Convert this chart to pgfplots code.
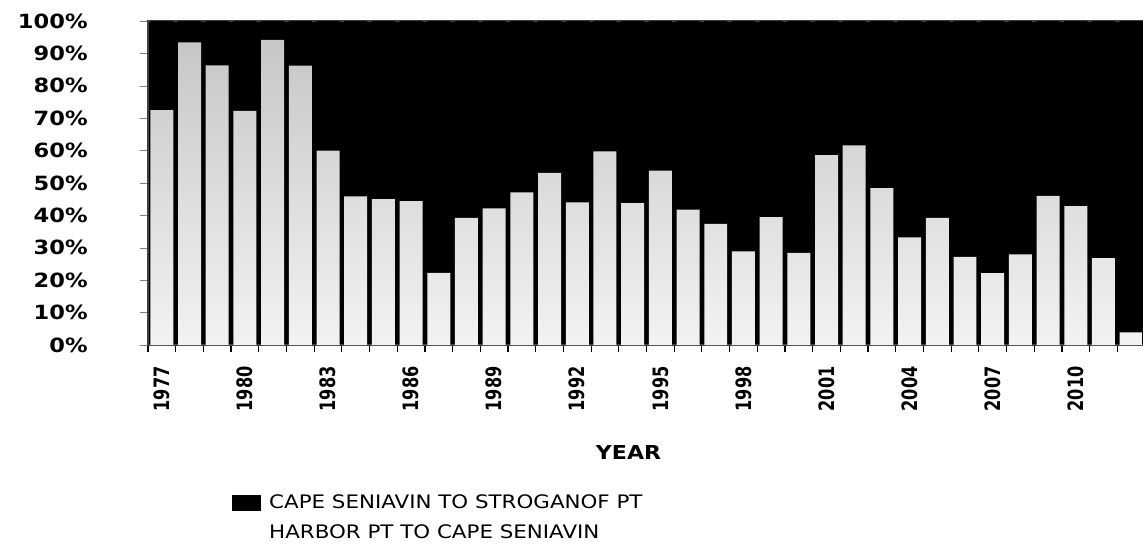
\documentclass[border=0pt]{standalone}
\usepackage{pgfplots}
\usepackage{pgfplotstable}
\pgfplotsset{compat=1.18}
\usepackage{fontspec}
\setmainfont{DejaVu Sans}
\newfontfamily\stf{DejaVu Sans}[FakeStretch=1.15]
\newfontfamily\xf{DejaVu Sans}[FakeStretch=0.76]

\pgfplotstableread{
x harbor cape
0 72.5 27.5
1 93.4 6.6
2 86.3 13.7
3 72.3 27.7
4 94.2 5.8
5 86.2 13.8
6 60.0 40.0
7 45.9 54.1
8 45.0 55.0
9 44.4 55.6
10 22.3 77.7
11 39.2 60.8
12 42.2 57.8
13 47.1 52.9
14 53.1 46.9
15 44.0 56.0
16 59.8 40.2
17 43.8 56.2
18 53.8 46.2
19 41.8 58.2
20 37.4 62.6
21 28.9 71.1
22 39.5 60.5
23 28.4 71.6
24 58.6 41.4
25 61.6 38.4
26 48.4 51.6
27 33.2 66.8
28 39.2 60.8
29 27.2 72.8
30 22.2 77.8
31 28.0 72.0
32 46.0 54.0
33 42.9 57.1
34 26.8 73.2
35 3.9 96.1
}\datatable

\begin{document}
\begin{tikzpicture}
\begin{axis}[
  at={(0,0)}, anchor=south west,
  scale only axis, width=498.5pt, height=162pt,
  ybar stacked, bar width=0.83,
  xmin=-0.5, xmax=35.5, ymin=0, ymax=100,
  axis background/.style={fill=black},
  axis line style={line width=0.6pt, black!75},
  xtick={0,3,...,33},
  xticklabels={1977,1980,1983,1986,1989,1992,1995,1998,2001,2004,2007,2010},
  minor xtick={-0.5,0.5,...,35.5},
  major x tick style={draw=none},
  minor x tick style={black, line width=0.6pt},
  minor tick length=3.5pt,
  major tick length=4pt,
  tick align=outside,
  xtick pos=bottom, ytick pos=left,
  ytick={0,10,...,100},
  yticklabels={0\%,10\%,20\%,30\%,40\%,50\%,60\%,70\%,80\%,90\%,100\%},
  yticklabel style={font=\stf\bfseries\fontsize{9.8}{10}\selectfont, anchor=east, inner sep=0pt},
  yticklabel shift=26pt,
  xticklabel style={font=\xf\bfseries\fontsize{10.6}{11}\selectfont, rotate=90, anchor=east, inner sep=0pt},
  xticklabel shift=6.5pt,
  xlabel={YEAR},
  xlabel style={font=\stf\bfseries\fontsize{9.6}{10}\selectfont, at={(axis description cs:0.482,0)}, anchor=center, yshift=-53.5pt},
  legend style={at={(axis description cs:0,0)}, anchor=north west, xshift=42pt, yshift=-74.5pt,
    draw=none, fill=none, inner sep=0pt, row sep=6.5pt,
    font=\stf\fontsize{9.3}{10}\selectfont,
    nodes={inner sep=0pt, text height=6.8pt, text depth=1.7pt}},
  legend cell align=left,
]
\addplot[forget plot, draw=none, top color=black!22, bottom color=black!5] table[x=x, y=harbor]{\datatable};
\addplot[forget plot, draw=none, fill=black] table[x=x, y=cape]{\datatable};
\addlegendimage{legend image code/.code={\fill[black] (0pt,-3.6pt) rectangle (14pt,3.6pt); \path (18pt,0pt);}}
\addlegendentry{CAPE SENIAVIN TO STROGANOF PT}
\addlegendimage{legend image code/.code={\fill[white] (0pt,-3.6pt) rectangle (14pt,3.6pt); \path (18pt,0pt);}}
\addlegendentry{HARBOR PT TO CAPE SENIAVIN}
\end{axis}
\pgfresetboundingbox
\path (-74pt,-101pt) rectangle (497.5pt,172.5pt);
\end{tikzpicture}
\end{document}
